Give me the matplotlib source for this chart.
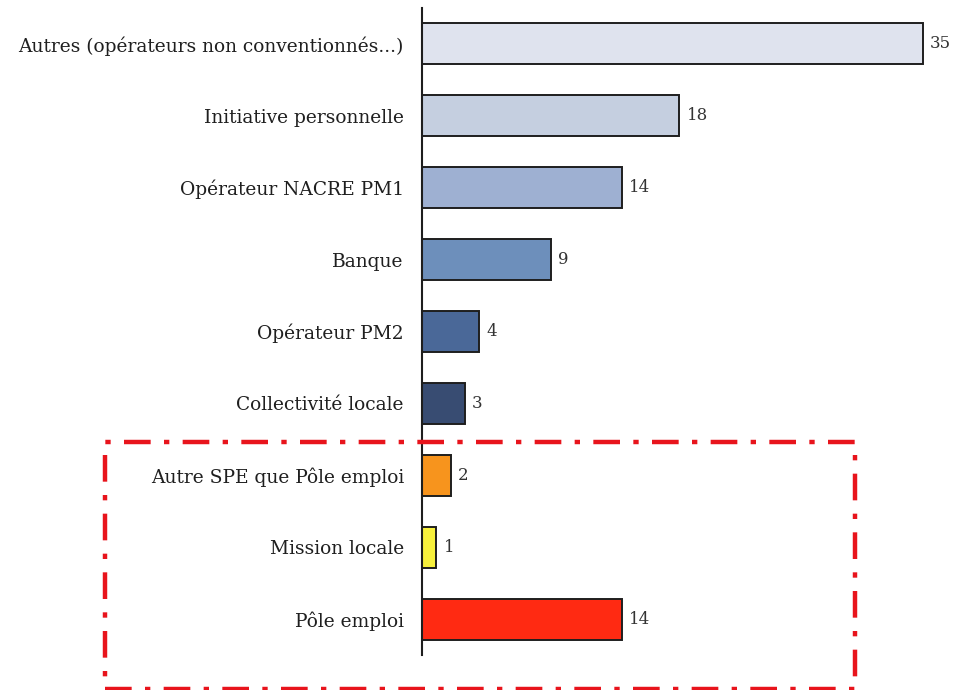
import matplotlib.pyplot as plt
from matplotlib.patches import Rectangle

categories = ['Autres (opérateurs non conventionnés...)', 'Initiative personnelle',
              'Opérateur NACRE PM1', 'Banque', 'Opérateur PM2', 'Collectivité locale',
              'Autre SPE que Pôle emploi', 'Mission locale', 'Pôle emploi']
values = [35, 18, 14, 9, 4, 3, 2, 1, 14]
colors = ['#dfe3ee', '#c5cfe0', '#9eb0d2', '#6d8fbb', '#4a6898', '#384c72',
          '#f7941d', '#f7f03c', '#ff2a12']

fig = plt.figure(figsize=(9.57, 6.9), dpi=100)
ax = fig.add_axes([422/957, 1 - 655/690, 1 - 422/957, 647/690])

ypos = range(len(categories))
ax.barh(ypos, values, height=0.57, color=colors, edgecolor='#1e1e1e', linewidth=1.4)
ax.set_ylim(-0.5, len(categories) - 0.5)
ax.invert_yaxis()
ax.set_xlim(0, 37.4)

for y, v in zip(ypos, values):
    ax.text(v + 0.5, y, str(v), va='center', ha='left', fontsize=12,
            family='DejaVu Serif', color='#333333')

ax.set_yticks(list(ypos))
ax.set_yticklabels(categories, family='DejaVu Serif', fontsize=13.4, color='#1f1f1f')
ax.tick_params(axis='y', length=0, pad=13)
ax.set_xticks([])
for s in ['top', 'right', 'bottom']:
    ax.spines[s].set_visible(False)
ax.spines['left'].set_linewidth(1.5)
ax.spines['left'].set_color('#1e1e1e')

# cadre rouge autour des SPE (en coordonnees figure)
box = Rectangle((105/957, 1/690), 750/957, 247/690, transform=fig.transFigure,
                fill=False, edgecolor='#e8141c', linewidth=3.2,
                linestyle=(0, (6, 3, 1.2, 3)), clip_on=False)
fig.patches.append(box)

fig.savefig('out.png', dpi=100)
